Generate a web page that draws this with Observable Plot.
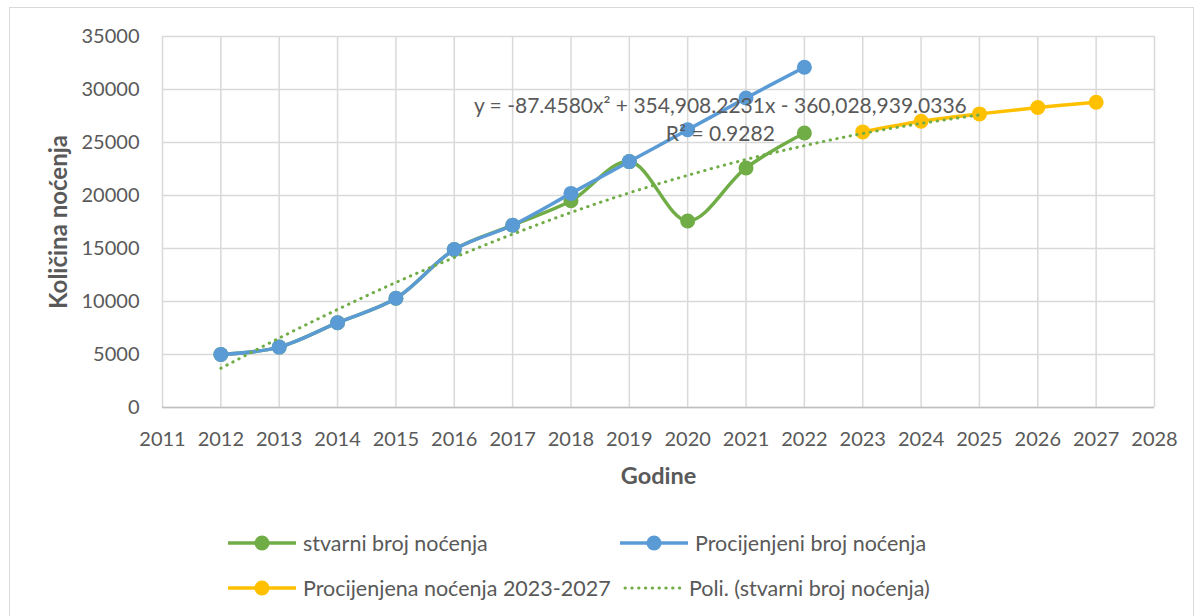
<!DOCTYPE html>
<html>
<head>
<meta charset="utf-8">
<script src="https://cdn.jsdelivr.net/npm/d3@7"></script>
<script src="https://cdn.jsdelivr.net/npm/@observablehq/plot@0.6"></script>
<style>
  html, body { margin: 0; padding: 0; background: #fff; }
  body { width: 1203px; height: 616px; position: relative; overflow: hidden; font-family: Lato, "Noto Sans", sans-serif; }
  #frame { position: absolute; left: 9px; top: 7px; width: 1185px; height: 640px; border: 1px solid #d9d9d9; box-sizing: border-box; }
  #chart { position: absolute; left: 0; top: 0; }
  .leg { position: absolute; height: 24px; display: flex; align-items: center; font-size: 21.5px; color: #595959; white-space: nowrap; }
</style>
</head>
<body>
<div id="frame"></div>
<div id="chart"></div>
<div id="legend"></div>
<script>
// ---- data ----
const godine = [2012, 2013, 2014, 2015, 2016, 2017, 2018, 2019, 2020, 2021, 2022];
const stvarni = [5000, 5700, 8000, 10300, 14900, 17200, 19500, 23200, 17600, 22600, 25900];
const procijenjeni = [5000, 5700, 8000, 10300, 14900, 17200, 20200, 23200, 26200, 29200, 32100];
const godinePrognoza = [2023, 2024, 2025, 2026, 2027];
const prognoza = [26000, 27000, 27700, 28300, 28800];
const godineTrend = [2012, 2013, 2014, 2015, 2016, 2017, 2018, 2019, 2020, 2021, 2022, 2023, 2024, 2025];
const trend = [3700, 6550, 9250, 11800, 14150, 16350, 18400, 20250, 21900, 23400, 24700, 25850, 26800, 27600];
const xTicks = [2011, 2012, 2013, 2014, 2015, 2016, 2017, 2018, 2019, 2020, 2021, 2022, 2023, 2024, 2025, 2026, 2027, 2028];
const yTicks = [0, 5000, 10000, 15000, 20000, 25000, 30000, 35000];
const seriesNames = ["stvarni broj noćenja", "Procijenjeni broj noćenja", "Procijenjena noćenja 2023-2027", "Poli. (stvarni broj noćenja)"];
const seriesColors = ["#70ad47", "#5b9bd5", "#ffc000", "#70ad47"];
const equationText = "y = -87.4580x² + 354,908.2231x - 360,028,939.0336\nR² = 0.9282";
const equationAt = {x: 2020.56, y: 27300};
const xTitle = "Godine";
const yTitle = "Količina noćenja";

const green = godine.map((g, i) => ({x: g, y: stvarni[i]}));
const blue = godine.map((g, i) => ({x: g, y: procijenjeni[i]}));
const yellow = godinePrognoza.map((g, i) => ({x: g, y: prognoza[i]}));
const trendData = godineTrend.map((g, i) => ({x: g, y: trend[i]}));

const lw = 3.5, r = 7.5;
const chart = Plot.plot({
  width: 1203,
  height: 500,
  marginLeft: 162,
  marginRight: 49,
  marginTop: 36,
  marginBottom: 93,
  style: {fontFamily: "Lato, 'Noto Sans', sans-serif", fontSize: "20px", color: "#595959", background: "transparent"},
  x: {domain: [2011, 2028]},
  y: {domain: [0, 35000]},
  marks: [
    Plot.gridX(xTicks, {stroke: "#d9d9d9", strokeOpacity: 1, strokeWidth: 1.5}),
    Plot.gridY(yTicks, {stroke: "#d9d9d9", strokeOpacity: 1, strokeWidth: 1.5}),
    Plot.ruleY([0], {stroke: "#bfbfbf", strokeWidth: 1.5}),
    Plot.axisX(xTicks, {tickSize: 0, tickPadding: 24, tickFormat: d => String(d), label: null, fill: "#595959"}),
    Plot.axisY(yTicks, {tickSize: 0, tickPadding: 23, tickFormat: d => String(d), label: null, fill: "#595959"}),
    Plot.line(green, {x: "x", y: "y", stroke: seriesColors[0], strokeWidth: lw, curve: "catmull-rom"}),
    Plot.dot(green, {x: "x", y: "y", r, fill: seriesColors[0]}),
    Plot.line(blue, {x: "x", y: "y", stroke: seriesColors[1], strokeWidth: lw, curve: "catmull-rom"}),
    Plot.dot(blue, {x: "x", y: "y", r, fill: seriesColors[1]}),
    Plot.line(yellow, {x: "x", y: "y", stroke: seriesColors[2], strokeWidth: lw, curve: "catmull-rom"}),
    Plot.dot(yellow, {x: "x", y: "y", r, fill: seriesColors[2]}),
    Plot.line(trendData, {x: "x", y: "y", stroke: seriesColors[3], strokeWidth: 3, strokeDasharray: "0.4,6.4", strokeLinecap: "round", curve: "catmull-rom"}),
    Plot.text([equationText], {x: () => equationAt.x, y: () => equationAt.y, text: d => d, fill: "#595959", fontSize: 21, lineHeight: 1.33, textAnchor: "middle"}),
    Plot.text([xTitle], {frameAnchor: "bottom", dy: 69, textAnchor: "middle", lineAnchor: "middle", text: d => d, fill: "#595959", fontSize: 23.5, fontWeight: "bold"}),
    Plot.text([yTitle], {frameAnchor: "left", dx: -103, rotate: -90, textAnchor: "middle", lineAnchor: "middle", text: d => d, fill: "#595959", fontSize: 24, fontWeight: "bold"})
  ]
});
document.getElementById("chart").appendChild(chart);

// ---- legend ----
const legendPos = [[228, 531], [620, 531], [228, 576], [620, 576]];
const leg = document.getElementById("legend");
seriesNames.forEach((name, i) => {
  const d = document.createElement("div");
  d.className = "leg";
  d.style.left = legendPos[i][0] + "px";
  d.style.top = legendPos[i][1] + "px";
  const dotted = i === 3;
  const w = dotted ? 63 : 68;
  d.innerHTML = `<svg width="${w}" height="24" style="margin-left:${dotted ? 3 : 0}px;margin-right:${dotted ? 3 : 7}px">` +
    (dotted
      ? `<line x1="2" y1="12" x2="${w}" y2="12" stroke="${seriesColors[i]}" stroke-width="3" stroke-linecap="round" stroke-dasharray="0.4,6.4"/>`
      : `<line x1="0" y1="12" x2="${w}" y2="12" stroke="${seriesColors[i]}" stroke-width="3.5"/><circle cx="${w/2}" cy="12" r="7.5" fill="${seriesColors[i]}"/>`) +
    `</svg><span>${name}</span>`;
  leg.appendChild(d);
});
</script>
</body>
</html>
